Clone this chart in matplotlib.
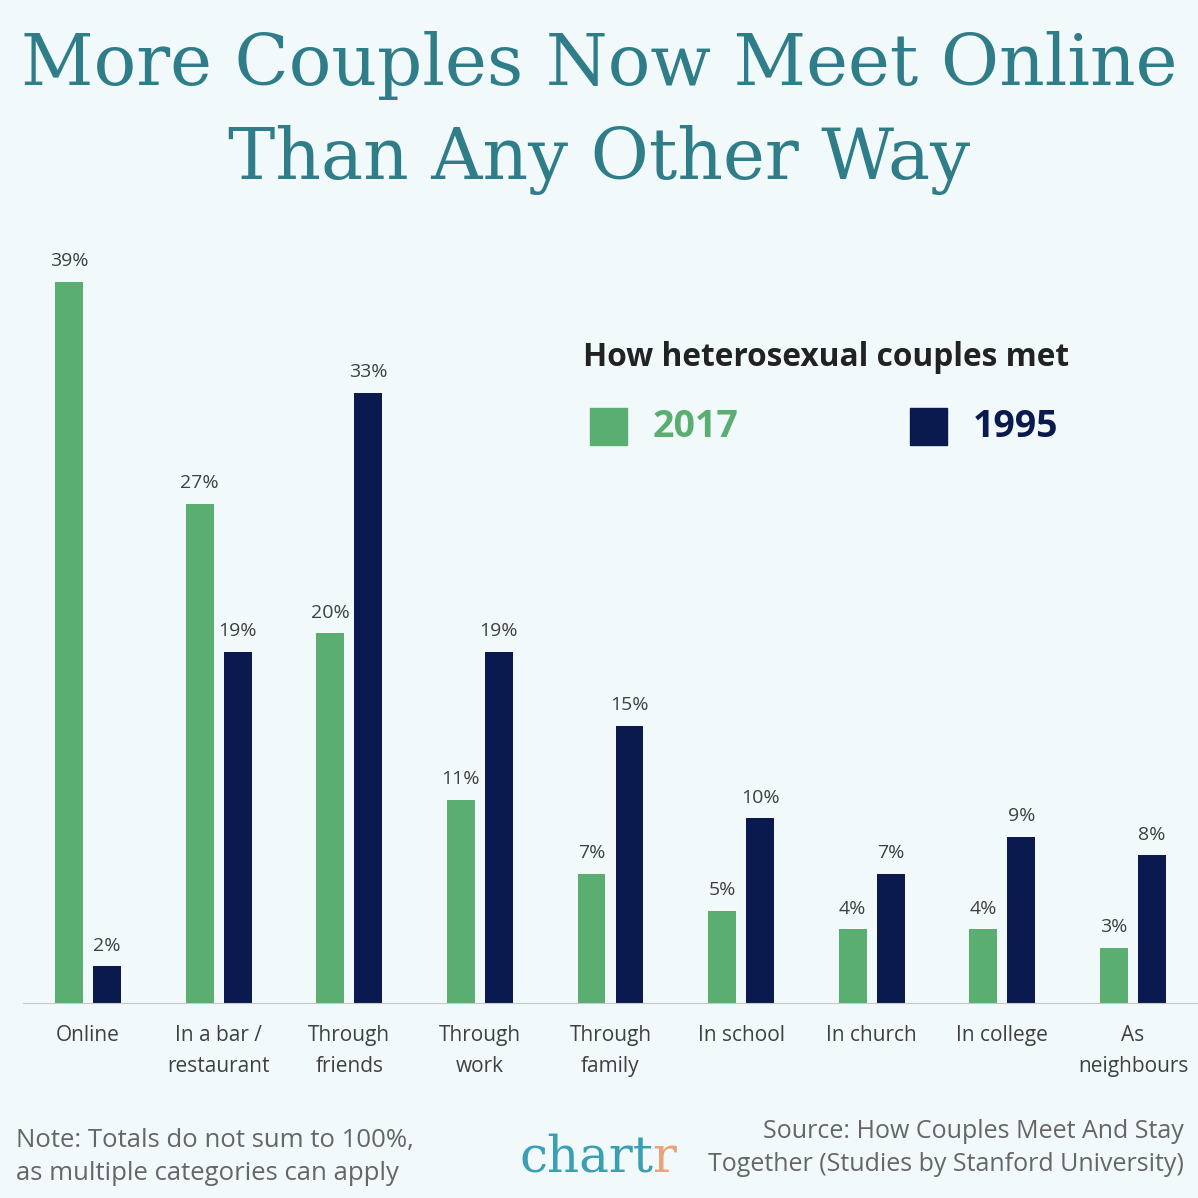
import matplotlib
matplotlib.use("Agg")
import matplotlib.pyplot as plt
from matplotlib.patches import Rectangle

categories = ["Online", "In a bar /\nrestaurant", "Through\nfriends", "Through\nwork",
              "Through\nfamily", "In school", "In church", "In college", "As\nneighbours"]
v2017 = [39, 27, 20, 11, 7, 5, 4, 4, 3]
v1995 = [2, 19, 33, 19, 15, 10, 7, 9, 8]

GREEN = "#5aae72"
NAVY = "#0b1a4e"
BG = "#f2f9fa"
TEAL = "#2f7d89"
GRAY = "#404040"

W = 1198
fig = plt.figure(figsize=(11.98, 11.98), dpi=100, facecolor=BG)
ax = fig.add_axes([22.7 / W, 195 / W, 1175.6 / W, 740 / W], facecolor=BG)
x = list(range(len(categories)))
bw = 0.214
off = 0.1455
ax.bar([i - off for i in x], v2017, bw, color=GREEN, zorder=2)
ax.bar([i + off for i in x], v1995, bw, color=NAVY, zorder=2)
for i in x:
    ax.text(i - off, v2017[i] + 0.6, f"{v2017[i]}%", ha="center", va="bottom",
            fontsize=14, color=GRAY, family="Open Sans")
    ax.text(i + off, v1995[i] + 0.6, f"{v1995[i]}%", ha="center", va="bottom",
            fontsize=14, color=GRAY, family="Open Sans")
ax.set_xlim(-0.5, 8.5)
ax.set_ylim(0, 40)
ax.set_yticks([])
ax.set_xticks(x)
ax.set_xticklabels(categories, fontsize=15, color=GRAY, family="Open Sans", linespacing=1.6)
ax.tick_params(axis="x", length=0, pad=16)
for s in ["top", "right", "left"]:
    ax.spines[s].set_visible(False)
ax.spines["bottom"].set_color("#c8c8c8")

fig.text(0.5, 1 - 65 / W, "More Couples Now Meet Online", ha="center", va="center",
         fontsize=51, color=TEAL, family="DejaVu Serif", fontweight="light")
fig.text(0.5, 1 - 160 / W, "Than Any Other Way", ha="center", va="center",
         fontsize=51, color=TEAL, family="DejaVu Serif", fontweight="light")

fig.text(583 / W, 1 - 358 / W, "How heterosexual couples met", ha="left", va="center",
         fontsize=22.8, fontweight="bold", color="#222222", family="Open Sans")
fig.patches.append(Rectangle((590 / W, 1 - 445 / W), 37 / W, 37 / W, transform=fig.transFigure, color=GREEN))
fig.patches.append(Rectangle((910 / W, 1 - 445 / W), 37 / W, 37 / W, transform=fig.transFigure, color=NAVY))
fig.text(653 / W, 1 - 427 / W, "2017", ha="left", va="center", fontsize=27, fontweight="bold",
         color=GREEN, family="Open Sans")
fig.text(973 / W, 1 - 427 / W, "1995", ha="left", va="center", fontsize=27, fontweight="bold",
         color=NAVY, family="Open Sans")

fig.text(16 / W, 1 - 1157 / W, "Note: Totals do not sum to 100%,\nas multiple categories can apply",
         ha="left", va="center", fontsize=18.5, color="#666666", family="Open Sans", linespacing=1.45)
fig.text(1184 / W, 1 - 1148 / W, "Source: How Couples Meet And Stay\nTogether (Studies by Stanford University)",
         ha="right", va="center", fontsize=18, color="#666666", family="Open Sans", linespacing=1.45,
         multialignment="right")
fig.text(520 / W, 1 - 1158 / W, "chart", ha="left", va="center", fontsize=36, color="#3a9fb4",
         family="DejaVu Serif", fontweight="light")
fig.text(652 / W, 1 - 1158 / W, "r", ha="left", va="center", fontsize=36, color="#e8a37a",
         family="DejaVu Serif", fontweight="light")

fig.savefig("out.png", dpi=100, facecolor=BG)
